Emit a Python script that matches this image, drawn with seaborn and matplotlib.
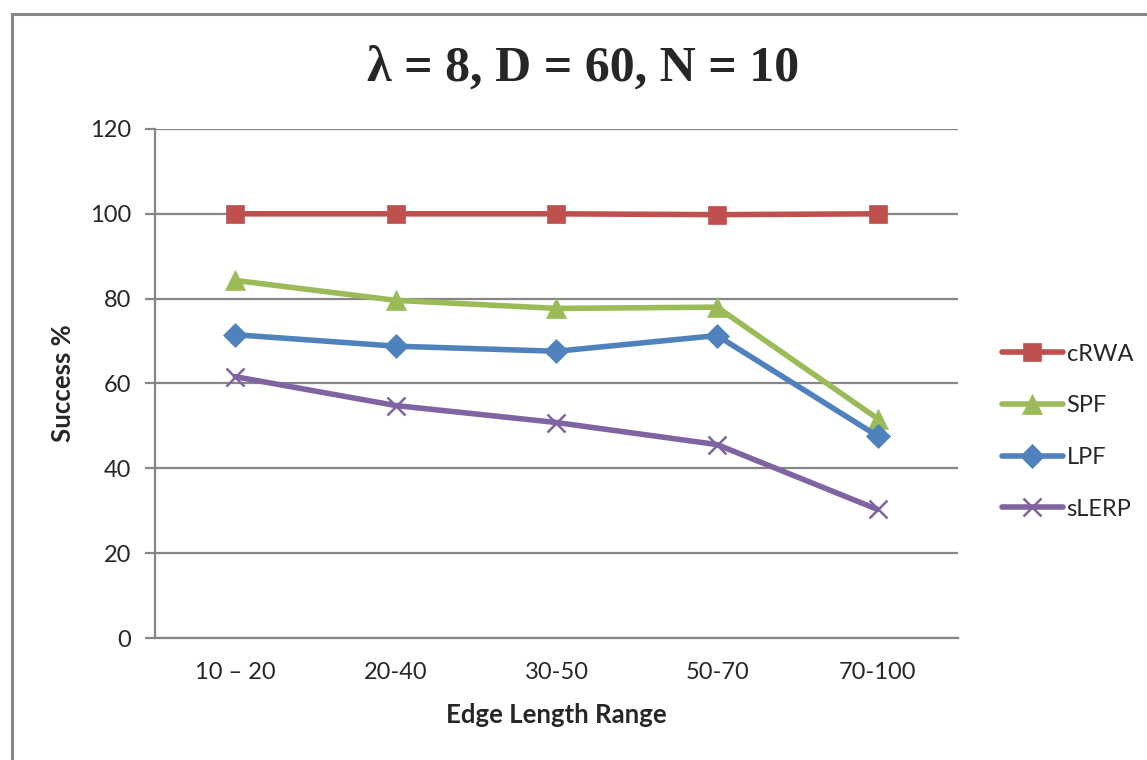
import matplotlib
matplotlib.use("Agg")
import matplotlib.pyplot as plt
import numpy as np
import pandas as pd
import seaborn as sns
from matplotlib.patches import Rectangle

categories = ["10 \u2013 20", "20-40", "30-50", "50-70", "70-100"]
crwa = [100.0, 100.0, 100.0, 99.8, 100.0]
spf = [84.3, 79.6, 77.7, 78.0, 51.7]
lpf = [71.5, 68.8, 67.6, 71.3, 47.6]
slerp = [61.6, 54.8, 50.8, 45.6, 30.3]

series = {"cRWA": crwa, "SPF": spf, "LPF": lpf, "sLERP": slerp}
colors = {"cRWA": "#C0504D", "SPF": "#9BBB59", "LPF": "#4F81BD", "sLERP": "#8064A2"}
markers = {"cRWA": "s", "SPF": "^", "LPF": "D", "sLERP": "x"}
msizes = {"cRWA": 13.5, "SPF": 15, "LPF": 12, "sLERP": 13.5}

rows = []
for name, vals in series.items():
    for i, v in enumerate(vals):
        rows.append({"pos": i, "cat": categories[i], "series": name, "value": v})
df = pd.DataFrame(rows)

sns.set_style("white")
plt.rcParams['font.family'] = ['Lato', 'DejaVu Sans']

fig = plt.figure(figsize=(11.47, 7.6), dpi=100)
ax = fig.add_axes([0.1351, 0.1605, 0.8352 - 0.1351, 0.8303 - 0.1605])

for name in series:
    sub = df[df["series"] == name]
    sns.lineplot(data=sub, x="pos", y="value", ax=ax, color=colors[name],
                 linewidth=4.0, marker=markers[name], markersize=msizes[name],
                 markeredgecolor=colors[name], markeredgewidth=1.8 if name == "sLERP" else 0.5,
                 label=name)

ax.set_xlim(-0.5, 4.5)
ax.set_ylim(0, 120)
ax.set_yticks(np.arange(0, 121, 20))
ax.set_xticks(range(len(categories)))
ax.set_xticklabels(categories)
ax.yaxis.grid(True, color="#868686", linewidth=1.6)
ax.set_axisbelow(True)
for s in ["top", "right"]:
    ax.spines[s].set_visible(False)
ax.spines["left"].set_color("#868686")
ax.spines["left"].set_linewidth(1.6)
ax.spines["bottom"].set_color("#868686")
ax.spines["bottom"].set_linewidth(1.6)
ax.tick_params(axis="y", left=True, length=7, width=1.6, color="#868686",
               labelsize=17, pad=10)
ax.tick_params(axis="x", bottom=False, labelsize=17, pad=14)

ax.set_xlabel("Edge Length Range", fontsize=18.5, fontweight="bold", labelpad=14)
ax.set_ylabel("Success %", fontsize=18.5, fontweight="bold", labelpad=11)

fig.text(0.508, 0.91, "\u03bb = 8, D = 60, N = 10", ha="center", va="center",
         fontsize=36, fontweight="bold", family=["Liberation Serif", "DejaVu Serif"])

ax.legend(loc="center left", bbox_to_anchor=(0.865, 0.432), bbox_transform=fig.transFigure,
          frameon=False, fontsize=17, handlelength=2.6, labelspacing=1.3,
          handletextpad=0.15, borderaxespad=0)

fig.patches.append(Rectangle((12 / 1147, -0.1), 1.2, (760 - 14) / 760 + 0.1,
                             transform=fig.transFigure, fill=False,
                             edgecolor="#868686", linewidth=2.2, figure=fig))

fig.savefig("out.png", dpi=100)
